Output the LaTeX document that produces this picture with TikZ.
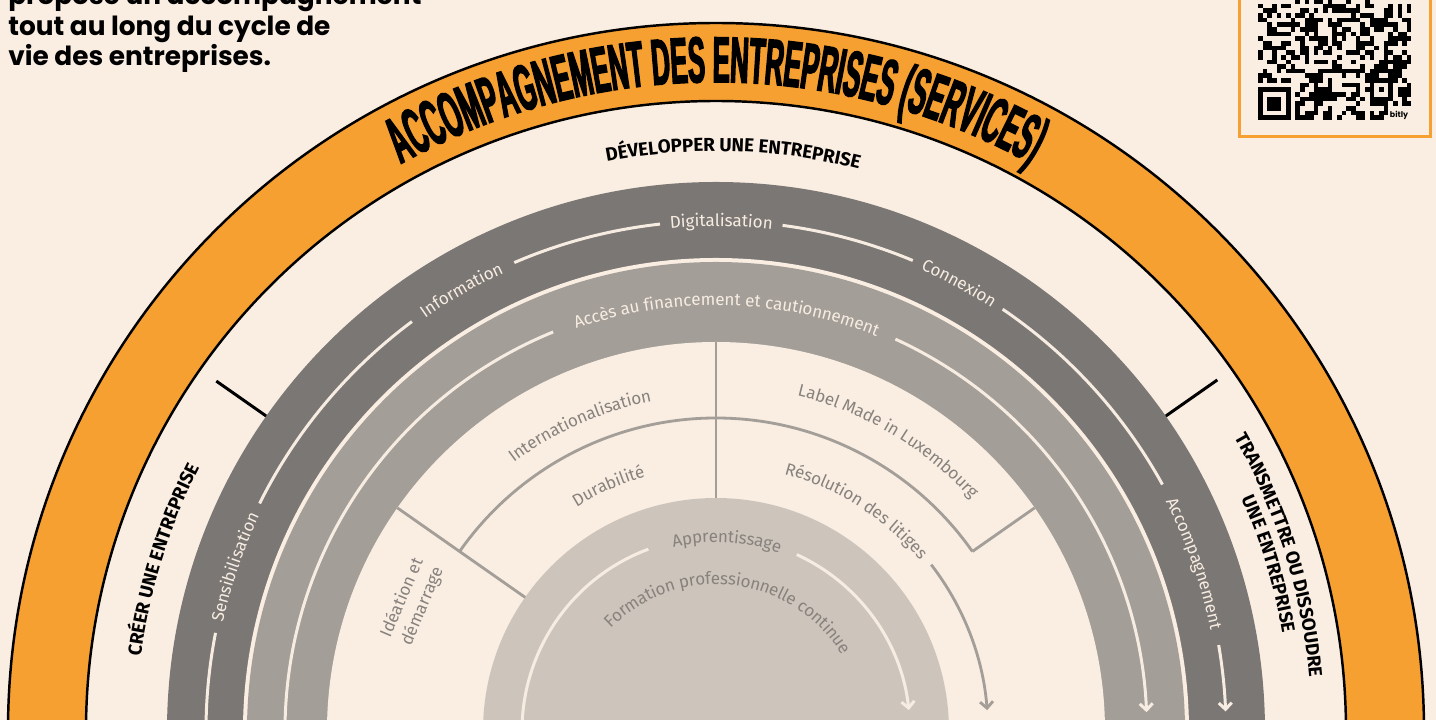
\documentclass[tikz,border=0pt]{standalone}
\usepackage{fontspec}
\usepackage{tikz}
\usetikzlibrary{arrows.meta,decorations.text}
\newfontfamily\leadface{Poppins}
\newfontfamily\lblface{Fira Sans}
\newfontfamily\stgface{Fira Sans}
\newfontfamily\ttlface[FakeStretch=0.395,FakeBold=2]{Liberation Sans}
\definecolor{creambg}{RGB}{250,238,227}
\definecolor{bandorange}{RGB}{247,160,50}
\definecolor{ringdark}{RGB}{123,119,116}
\definecolor{ringmid}{RGB}{163,158,152}
\definecolor{corelight}{RGB}{205,197,188}
\definecolor{sectorgray}{RGB}{163,158,152}
\definecolor{labelgray}{RGB}{135,130,125}
\definecolor{linecream}{RGB}{247,236,225}

% fonts of the curved labels
\newcommand{\ringlbl}{\lblface\fontsize{9.7}{11}\selectfont\color{linecream}}
\newcommand{\sectorlbl}{\lblface\fontsize{9.7}{11}\selectfont\color{labelgray}}
\newcommand{\stagelbl}{\stgface\bfseries\fontsize{10.7}{12}\selectfont\color{black}}
\newcommand{\titlelbl}{\ttlface\bfseries\fontsize{37}{37}\selectfont\color{black}}

% text along a circle: format, centre angle, radius, text
\newcommand{\arctext}[4]{%
  \path[decorate,decoration={text along path,text align=center,raise=-3pt,
    text={|#1|#4}}] ({#2+80}:#3) arc[start angle={#2+80},end angle={#2-80},radius=#3];}

\begin{document}
\begin{tikzpicture}[x=0.2mm,y=0.2mm,
    ringline/.style={draw=linecream,line width=1.7pt},
    sectorline/.style={draw=sectorgray,line width=1.6pt},
    stagetick/.style={draw=black,line width=1.7pt},
    ringarrow/.style={-{Straight Barb[length=1.3mm,width=2.6mm]}},
    leadtext/.style={font=\leadface\bfseries\fontsize{15}{18}\selectfont,inner sep=0pt,anchor=base west}]
    \useasboundingbox (-716,11) rectangle (720,731);
    \clip (-716,11) rectangle (720,731);
    \fill[creambg] (-716,11) rectangle (720,731);

    % Outer orange band
    \fill[bandorange] (0,0) circle[radius=708];
    \draw[black,line width=1.4pt] (0,0) circle[radius=708];
    \fill[creambg] (0,0) circle[radius=630];
    \draw[black,line width=1.4pt] (0,0) circle[radius=630];

    % Stage separators
    \draw[stagetick] (145:549) -- (145:610);
    \draw[stagetick] (35:549) -- (35:612);

    % Rings
    \fill[ringdark] (0,0) circle[radius=549];
    \fill[creambg] (0,0) circle[radius=473];
    \fill[ringmid] (0,0) circle[radius=469];
    \fill[creambg] (0,0) circle[radius=389];
    \fill[corelight] (0,0) circle[radius=233];

    % Sectors between the rings and the core
    \draw[sectorline] (90:389) -- (90:233);
    \draw[sectorline] (145:389) -- (145:233);
    \draw[sectorline] (35:389) -- (35:313);
    \draw[sectorline] (145:313) arc[start angle=145,end angle=35,radius=313];
    \draw[sectorline,ringarrow] (37.7:272) arc[start angle=37.7,end angle=4.4,radius=272];

    % Lines of the dark ring
    \foreach \from/\to in {180/168.9,153.5/126.6,113.3/96.3,82.5/67.3,55.8/28.9}
        \draw[ringline] (\from:510) arc[start angle=\from,end angle=\to,radius=510];
    \draw[ringline,ringarrow] (9.7:510) arc[start angle=9.7,end angle=2.2,radius=510];

    % Lines of the middle ring
    \draw[ringline] (180:431) arc[start angle=180,end angle=112.2,radius=431];
    \draw[ringline,ringarrow] (65.4:431) arc[start angle=65.4,end angle=2.5,radius=431];

    % Line of the core
    \draw[ringline] (180:194) arc[start angle=180,end angle=110.4,radius=194];
    \draw[ringline,ringarrow] (65.4:194) arc[start angle=65.4,end angle=6.2,radius=194];

    % Title and stages
    \arctext{\titlelbl}{90}{654}{ACCOMPAGNEMENT DES ENTREPRISES (SERVICES)}
    \arctext{\stagelbl}{88.3}{585}{DÉVELOPPER UNE ENTREPRISE}
    \arctext{\stagelbl}{162.8}{585}{CRÉER UNE ENTREPRISE}
    \arctext{\stagelbl}{17.3}{601}{TRANSMETTRE OU DISSOUDRE}
    \arctext{\stagelbl}{16.8}{580}{UNE ENTREPRISE}

    % Labels of the dark ring
    \arctext{\ringlbl}{161.2}{510}{Sensibilisation}
    \arctext{\ringlbl}{120}{510}{Information}
    \arctext{\ringlbl}{89.4}{510}{Digitalisation}
    \arctext{\ringlbl}{61.5}{510}{Connexion}
    \arctext{\ringlbl}{19.3}{510}{Accompagnement}

    % Label of the middle ring
    \arctext{\ringlbl}{88.5}{431}{Accès au financement et cautionnement}

    % Labels of the sectors
    \arctext{\sectorlbl}{114}{341}{Internationalisation}
    \arctext{\sectorlbl}{113.7}{269}{Durabilité}
    \arctext{\sectorlbl}{59.3}{350}{Label Made in Luxembourg}
    \arctext{\sectorlbl}{57.5}{271}{Résolution des litiges}
    \node[font=\lblface\fontsize{9.7}{12.5}\selectfont,text=labelgray,rotate=67,align=center]
        (ideation) at (157:330) {Idéation et\\démarrage};

    % Labels of the core
    \arctext{\sectorlbl}{86.7}{194}{Apprentissage}
    \arctext{\sectorlbl}{83.5}{152}{Formation professionnelle continue}

    % Lead text
    \node[leadtext] (lead1) at (-708,726) {propose un accompagnement};
    \node[leadtext] (lead2) at (-708,695) {tout au long du cycle de};
    \node[leadtext] (lead3) at (-708,665) {vie des entreprises.};

    % QR code
    \def\qm{4.65}
    \draw[bandorange,line width=1.7pt,fill=creambg] (523.5,594.5) rectangle (714.5,740);
    \pgfmathsetseed{4242}
    \foreach \row in {7,...,32}{
        \foreach \col in {0,...,32}{
            \pgfmathrandominteger{\qbit}{0}{1}
            \pgfmathtruncatemacro{\qskip}{(\row<8 && (\col<8 || \col>24)) || (\row>24 && \col<8) || (\row>23 && \row<29 && \col>23 && \col<29) || (\row>29 && \col>27) || \col==6}
            \ifnum\qskip=0 \ifnum\qbit=1
                \fill[black] (542+\col*\qm,764.45-\row*\qm-\qm) rectangle ++(\qm,\qm);
            \fi\fi
        }
    }
    \foreach \row in {8,10,...,24}
        \fill[black] (542+6*\qm,764.45-\row*\qm-\qm) rectangle ++(\qm,\qm);
    % finder and alignment patterns
    \fill[black] (542,611) rectangle ++(7*\qm,7*\qm);
    \fill[creambg] (542+\qm,611+\qm) rectangle ++(5*\qm,5*\qm);
    \fill[black] (542+2*\qm,611+2*\qm) rectangle ++(3*\qm,3*\qm);
    \fill[black] (542+24*\qm,764.45-29*\qm) rectangle ++(5*\qm,5*\qm);
    \fill[creambg] (542+25*\qm,764.45-28*\qm) rectangle ++(3*\qm,3*\qm);
    \fill[black] (542+26*\qm,764.45-27*\qm) rectangle ++(\qm,\qm);
    \node[font=\leadface\bfseries\fontsize{4.5}{5}\selectfont,inner sep=0pt] (bitly) at (683,616) {bitly};
\end{tikzpicture}
\end{document}
